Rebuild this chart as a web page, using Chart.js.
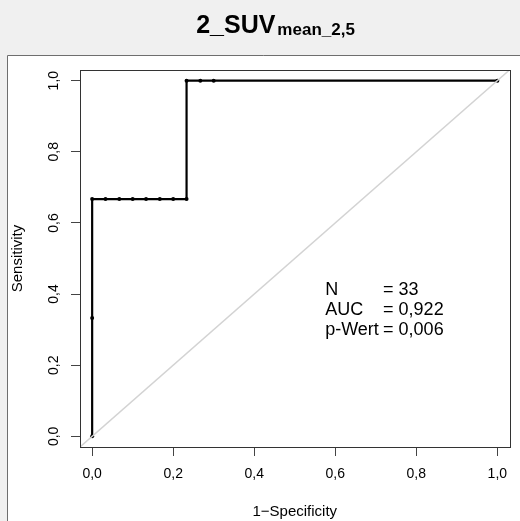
<!DOCTYPE html>
<html>
<head>
<meta charset="utf-8">
<script src="https://cdn.jsdelivr.net/npm/chart.js@4.4.1/dist/chart.umd.min.js"></script>
<style>
  html, body { margin: 0; padding: 0; background: #f0f0f0; }
  canvas { display: block; }
</style>
</head>
<body>
<canvas id="roc" width="520" height="521"></canvas>
<script>
// ROC curve: 1-specificity vs. sensitivity
const fpr = [0, 0, 0, 0.033, 0.067, 0.1, 0.133, 0.167, 0.2, 0.233, 0.233, 0.267, 0.3, 1];
const tpr = [0, 0.333, 0.667, 0.667, 0.667, 0.667, 0.667, 0.667, 0.667, 0.667, 1, 1, 1, 1];
const tickValues = [0, 0.2, 0.4, 0.6, 0.8, 1];
const tickLabels = ['0,0', '0,2', '0,4', '0,6', '0,8', '1,0'];
const statNames = ['N', 'AUC', 'p-Wert'];
const statValues = ['= 33', '= 0,922', '= 0,006'];
const axisMin = -0.03, axisMax = 1.03;

const FONT = "'Liberation Sans', Arial, sans-serif";

const frame = {
    id: 'frame',
    beforeDraw(chart) {
        const ctx = chart.ctx;
        ctx.save();
        ctx.fillStyle = '#f0f0f0';
        ctx.fillRect(0, 0, chart.width, chart.height);
        ctx.fillStyle = '#fff';
        ctx.fillRect(7, 55, chart.width - 7, chart.height - 55);
        ctx.strokeStyle = '#6e6e6e';
        ctx.lineWidth = 1;
        ctx.beginPath();
        ctx.moveTo(7.5, chart.height);
        ctx.lineTo(7.5, 55.5);
        ctx.lineTo(chart.width, 55.5);
        ctx.stroke();
        ctx.restore();
    },
    afterDraw(chart) {
        const ctx = chart.ctx;
        const a = chart.chartArea;
        const xs = chart.scales.x, ys = chart.scales.y;
        ctx.save();
        // plot box
        ctx.strokeStyle = '#333';
        ctx.lineWidth = 1;
        ctx.strokeRect(Math.round(a.left) + 0.5, Math.round(a.top) + 0.5,
            Math.round(a.right - a.left), Math.round(a.bottom - a.top));

        // title with subscript
        ctx.fillStyle = '#000';
        ctx.textBaseline = 'alphabetic';
        ctx.font = `bold 25px ${FONT}`;
        const w1 = ctx.measureText('2_SUV').width;
        ctx.font = `bold 17px ${FONT}`;
        const w2 = ctx.measureText('mean_2,5').width;
        const x0 = 275.5 - (w1 + 2 + w2) / 2;
        ctx.font = `bold 25px ${FONT}`;
        ctx.fillText('2_SUV', x0, 33);
        ctx.font = `bold 17px ${FONT}`;
        ctx.fillText('mean_2,5', x0 + w1 + 2, 35);

        // statistics block
        ctx.font = `18px ${FONT}`;
        const nx = xs.getPixelForValue(0.575);
        const vx = xs.getPixelForValue(0.718);
        const y0 = ys.getPixelForValue(0.398);
        statNames.forEach((name, i) => {
            ctx.fillText(name, nx, y0 + i * 20.3);
            ctx.fillText(statValues[i], vx, y0 + i * 20.3);
        });
        ctx.restore();
    }
};

const tickFont = { family: FONT, size: 14 };
const titleFont = { family: FONT, size: 15 };

new Chart(document.getElementById('roc'), {
    type: 'scatter',
    data: {
        datasets: [
            {
                // chance line
                data: [{ x: axisMin, y: axisMin }, { x: axisMax, y: axisMax }],
                showLine: true,
                borderColor: '#d3d3d3',
                borderWidth: 1.5,
                pointRadius: 0,
                order: 0
            },
            {
                data: fpr.map((x, i) => ({ x, y: tpr[i] })),
                showLine: true,
                borderColor: '#000',
                borderWidth: 2.2,
                pointRadius: 2,
                pointBorderWidth: 0,
                pointBackgroundColor: '#000',
                order: 1
            }
        ]
    },
    options: {
        responsive: false,
        animation: false,
        events: [],
        layout: { padding: { left: 7, top: 70, right: 10.5, bottom: 0 } },
        plugins: { legend: { display: false }, tooltip: { enabled: false } },
        scales: {
            x: {
                type: 'linear', position: 'bottom', min: axisMin, max: axisMax,
                afterBuildTicks: s => { s.ticks = tickValues.map(v => ({ value: v })); },
                afterFit: s => { s.height = 74; },
                ticks: { callback: (v, i) => tickLabels[i], color: '#000', font: tickFont,
                    padding: 10, maxRotation: 0, autoSkip: false },
                grid: { drawOnChartArea: false, tickLength: 9, color: '#444' },
                border: { display: false },
                title: { display: true, text: '1−Specificity', color: '#000', font: titleFont, padding: 0 }
            },
            y: {
                type: 'linear', position: 'left', min: axisMin, max: axisMax,
                afterBuildTicks: s => { s.ticks = tickValues.map(v => ({ value: v })); },
                afterFit: s => { s.width = 73; },
                ticks: { callback: (v, i) => tickLabels[i], color: '#000', font: tickFont,
                    padding: 7, minRotation: 90, maxRotation: 90, crossAlign: 'center', autoSkip: false },
                grid: { drawOnChartArea: false, tickLength: 9, color: '#444' },
                border: { display: false },
                title: { display: true, text: 'Sensitivity', color: '#000', font: titleFont, padding: { top: 2, bottom: 0 } }
            }
        }
    },
    plugins: [frame]
});
</script>
</body>
</html>
